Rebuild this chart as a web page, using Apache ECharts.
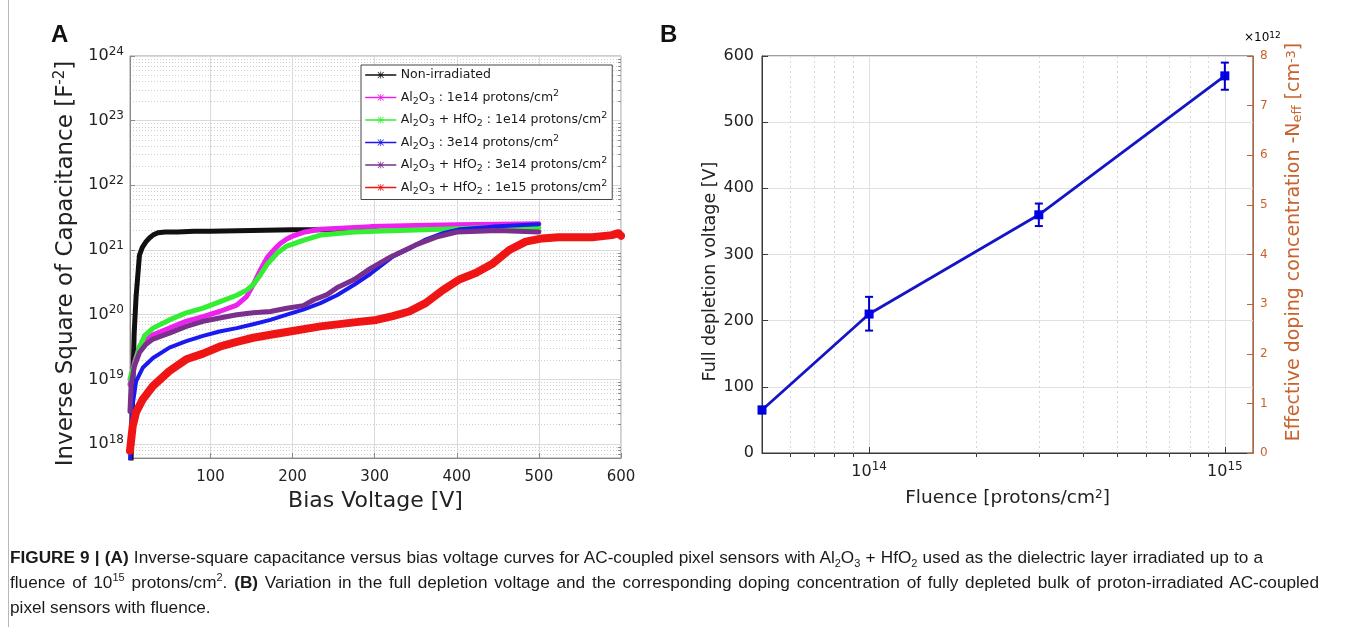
<!DOCTYPE html>
<html>
<head>
<meta charset="utf-8">
<script src="https://cdn.jsdelivr.net/npm/echarts@6/dist/echarts.min.js"></script>
<style>
html,body{margin:0;padding:0;background:#fff;}
#chart{position:absolute;left:0;top:0;width:1356px;height:627px;}
.cap{position:absolute;left:10px;font-family:"Liberation Sans",Arial,sans-serif;font-size:17.2px;line-height:20px;color:#1a1a1a;white-space:nowrap;}
.cap sub,.cap sup{font-size:11px;line-height:0;}
.frame{position:absolute;top:0;height:627px;width:0;border-left:1px solid #b8b8b8;}
</style>
</head>
<body>
<div id="chart"></div>
<div class="frame" style="left:8px"></div>
<div class="cap" style="top:547px;word-spacing:0.4px"><b>FIGURE 9 | (A)</b> Inverse-square capacitance versus bias voltage curves for AC-coupled pixel sensors with Al<sub>2</sub>O<sub>3</sub> + HfO<sub>2</sub> used as the dielectric layer irradiated up to a</div>
<div class="cap" style="top:572px;word-spacing:2px">fluence of 10<sup>15</sup> protons/cm<sup>2</sup>. <b>(B)</b> Variation in the full depletion voltage and the corresponding doping concentration of fully depleted bulk of proton-irradiated AC-coupled</div>
<div class="cap" style="top:597px">pixel sensors with fluence.</div>
<script>
// ---------------- Panel A data (bias voltage [V], inverse square capacitance [F^-2]) ----------------
const seriesNamesA = ['Non-irradiated', 'Al2O3 : 1e14', 'Al2O3 + HfO2 : 1e14', 'Al2O3 : 3e14', 'Al2O3 + HfO2 : 3e14', 'Al2O3 + HfO2 : 1e15'];

const voltBlack = [3, 7, 9.4, 11.4, 13.5, 17, 21.6, 26, 30, 36, 45, 60, 80, 100, 150, 200, 250, 300];
const capBlack  = [4e17, 4.9e19, 1.9e20, 3.9e20, 8.3e20, 1.1e21, 1.35e21, 1.55e21, 1.7e21, 1.85e21, 1.9e21, 1.9e21, 1.95e21, 1.95e21, 2.0e21, 2.05e21, 2.05e21, 2.05e21];

const voltMagenta = [2, 4, 7.3, 13.5, 21.6, 30, 50, 70, 91, 111, 132, 144, 152, 160, 169, 177, 185, 193, 201, 215, 234, 295, 350, 400, 450, 500];
const capMagenta  = [8.3e18, 1.12e19, 1.82e19, 3.2e19, 4.2e19, 4.9e19, 6.2e19, 7.9e19, 9.3e19, 1.12e20, 1.41e20, 1.9e20, 2.9e20, 4.7e20, 7.6e20, 1.0e21, 1.26e21, 1.48e21, 1.66e21, 1.9e21, 2.1e21, 2.3e21, 2.4e21, 2.45e21, 2.5e21, 2.55e21];

const voltGreen = [2, 4, 7, 13.5, 19.6, 30, 50, 70.6, 91, 111, 132, 144, 152, 160, 169, 181, 193, 213, 234, 275, 300, 350, 400, 450, 500];
const capGreen  = [1.0e19, 1.26e19, 1.58e19, 3.1e19, 4.7e19, 6.2e19, 8.3e19, 1.07e20, 1.26e20, 1.58e20, 2.0e20, 2.4e20, 2.9e20, 4.0e20, 6.0e20, 8.9e20, 1.15e21, 1.41e21, 1.7e21, 1.9e21, 1.95e21, 2.04e21, 2.14e21, 2.24e21, 2.2e21];

const voltBlue = [2, 4.5, 9.4, 17.5, 30, 50, 70.6, 91, 111, 132, 152, 173, 193, 213, 234, 254, 275, 295, 322, 342, 362, 383, 404, 444, 500];
const capBlue  = [5e17, 3.5e18, 9.3e18, 1.51e19, 2.14e19, 3.1e19, 3.9e19, 4.7e19, 5.5e19, 6.2e19, 7.1e19, 8.3e19, 1.0e20, 1.2e20, 1.51e20, 2.0e20, 2.9e20, 4.3e20, 7.9e20, 1.05e21, 1.45e21, 1.82e21, 2.1e21, 2.3e21, 2.5e21];

const voltPurple = [2, 3.3, 7.3, 13.5, 21.6, 30, 50, 70.6, 91, 111, 132, 152, 173, 193, 213, 226, 242, 254, 275, 295, 320, 350, 375, 400, 450, 500];
const capPurple  = [3.2e18, 7.9e18, 1.58e19, 2.6e19, 3.5e19, 4.2e19, 5.2e19, 6.6e19, 7.9e19, 8.9e19, 1.0e20, 1.07e20, 1.12e20, 1.26e20, 1.38e20, 1.7e20, 2.04e20, 2.6e20, 3.5e20, 5.2e20, 7.9e20, 1.2e21, 1.58e21, 1.9e21, 2.0e21, 1.9e21];

const voltRed = [2, 5.3, 9.4, 17.5, 30, 50, 70.6, 91, 111, 132, 152, 173, 193, 234, 275, 302, 322, 342, 362, 383, 403, 423, 444, 464, 484, 504, 524, 565, 589, 597, 600];
const capRed  = [7.9e17, 1.9e18, 3.1e18, 4.9e18, 7.9e18, 1.35e19, 2.04e19, 2.5e19, 3.2e19, 3.8e19, 4.4e19, 4.9e19, 5.4e19, 6.6e19, 7.6e19, 8.3e19, 9.5e19, 1.12e20, 1.51e20, 2.4e20, 3.5e20, 4.4e20, 6.2e20, 1.0e21, 1.35e21, 1.51e21, 1.58e21, 1.58e21, 1.7e21, 1.82e21, 1.66e21];

const biasTicks = [100, 200, 300, 400, 500, 600];
const capExponentTicks = [18, 19, 20, 21, 22, 23, 24];

// ---------------- Panel B data ----------------
const fluence = [5e13, 1e14, 3e14, 1e15];
const depletionVoltage = [65, 210, 360, 570];
const errLow  = [60, 185, 343, 549];
const errHigh = [70, 236, 377, 590];
const fluenceExponentTicks = [14, 15];

// ---------------- helpers ----------------
const FONT = 'DejaVu Sans';
const L10 = Math.log10;
const pairs = (xs, ys) => xs.map((x, i) => [x, L10(ys[i])]);
const AST = 'path://M9,0L11,0L11,20L9,20Z M0,9L20,9L20,11L0,11Z M2.6,1.2L18.8,17.4L17.4,18.8L1.2,2.6Z M17.4,1.2L18.8,2.6L2.6,18.8L1.2,17.4Z';

const yMinA = 17.784, yMaxA = 24;
const minorA = [];
for (let n = 17; n <= 23; n++) for (let k = 2; k <= 9; k++) { const v = n + L10(k); if (v > yMinA && v < yMaxA) minorA.push(v); }
const xMinB = L10(5e13), xMaxB = L10(1.2e15);
const minorB = [];
for (let n = 13; n <= 14; n++) for (let k = 2; k <= 9; k++) { const v = n + L10(k); if (v > xMinB && v < xMaxB) minorB.push(v); }

const powRich = {
  b: { fontSize: 16, fontFamily: FONT, color: '#222', lineHeight: 21 },
  e: { fontSize: 12, fontFamily: FONT, color: '#222', verticalAlign: 'top', lineHeight: 11 }
};
const legendRich = {
  sub: { fontSize: 9.5, fontFamily: FONT, color: '#1a1a1a', verticalAlign: 'bottom', lineHeight: 9 },
  sup: { fontSize: 9.5, fontFamily: FONT, color: '#1a1a1a', verticalAlign: 'top', lineHeight: 9 }
};
const legendText = {
  'Non-irradiated': 'Non-irradiated',
  'Al2O3 : 1e14': 'Al{sub|2}O{sub|3} : 1e14 protons/cm{sup|2}',
  'Al2O3 + HfO2 : 1e14': 'Al{sub|2}O{sub|3} + HfO{sub|2} : 1e14 protons/cm{sup|2}',
  'Al2O3 : 3e14': 'Al{sub|2}O{sub|3} : 3e14 protons/cm{sup|2}',
  'Al2O3 + HfO2 : 3e14': 'Al{sub|2}O{sub|3} + HfO{sub|2} : 3e14 protons/cm{sup|2}',
  'Al2O3 + HfO2 : 1e15': 'Al{sub|2}O{sub|3} + HfO{sub|2} : 1e15 protons/cm{sup|2}'
};

const colorsA = ['#111111', '#EE22EE', '#33EE33', '#1A1AF0', '#7B2F8C', '#F01515'];
const widthsA = [5, 5, 5, 4, 5, 8];
const dataA = [pairs(voltBlack, capBlack), pairs(voltMagenta, capMagenta), pairs(voltGreen, capGreen),
               pairs(voltBlue, capBlue), pairs(voltPurple, capPurple), pairs(voltRed, capRed)];

const seriesA = seriesNamesA.map((name, i) => ({
  type: 'line', name, xAxisIndex: 0, yAxisIndex: 0, data: dataA[i],
  symbol: AST, symbolSize: 8, showSymbol: false,
  lineStyle: { color: colorsA[i], width: widthsA[i], cap: 'round', join: 'round' },
  itemStyle: { color: colorsA[i] }, z: 3 + i, silent: true
}));

const axisGray = '#8a8a8a';
const gridGray = '#dadada';
const orange = '#C8632E';

const option = {
  animation: false,
  backgroundColor: '#ffffff',
  grid: [
    { left: 130, top: 56, width: 491, height: 402, show: true, borderColor: '#9a9a9a', borderWidth: 1, backgroundColor: '#fff' },
    { left: 762, top: 56, width: 491, height: 397, show: true, borderColor: '#3a3a3a', borderWidth: 1, backgroundColor: '#fff' }
  ],
  xAxis: [
    { type: 'value', gridIndex: 0, min: 2, max: 600,
      name: 'Bias Voltage [V]', nameLocation: 'middle', nameGap: 32,
      nameTextStyle: { fontFamily: FONT, fontSize: 22, color: '#222' },
      axisLine: { lineStyle: { color: axisGray } },
      axisTick: { inside: true, length: 5, customValues: biasTicks, lineStyle: { color: axisGray } },
      axisLabel: { customValues: biasTicks, fontFamily: FONT, fontSize: 15, color: '#222', margin: 12 },
      splitLine: { show: true, lineStyle: { color: gridGray, width: 1 } } },
    { type: 'value', gridIndex: 1, min: xMinB, max: xMaxB,
      name: 'Fluence [protons/cm{sup|2}]', nameLocation: 'middle', nameGap: 36,
      nameTextStyle: { fontFamily: FONT, fontSize: 18.5, color: '#222', rich: { sup: { fontSize: 12, fontFamily: FONT, color: '#222', verticalAlign: 'top', lineHeight: 11 } } },
      axisLine: { lineStyle: { color: '#3a3a3a' } },
      axisTick: { inside: true, length: 6, customValues: fluenceExponentTicks, lineStyle: { color: '#3a3a3a' } },
      axisLabel: { customValues: fluenceExponentTicks, formatter: v => '{b|10}{e|' + Math.round(v) + '}', rich: powRich, margin: 8 },
      splitLine: { show: true, lineStyle: { color: '#e0e0e0', width: 1 } } },
    { type: 'value', gridIndex: 1, min: xMinB, max: xMaxB,
      axisLine: { show: false }, axisLabel: { show: false },
      axisTick: { show: true, inside: true, length: 4, customValues: minorB, lineStyle: { color: '#3a3a3a' } },
      splitLine: { show: true, lineStyle: { color: '#d6d6d6', type: [2, 3], width: 1 } } }
  ],
  yAxis: [
    { type: 'value', gridIndex: 0, min: yMinA, max: yMaxA,
      name: '{t|Inverse Square of Capacitance [F}{s|-2}{t|]}', nameLocation: 'middle', nameGap: 50,
      nameTextStyle: { fontFamily: FONT, fontSize: 23, color: '#222', padding: [0, 13, 0, 0],
        rich: { t: { fontFamily: FONT, fontSize: 23, color: '#222', lineHeight: 27 }, s: { fontFamily: FONT, fontSize: 15, color: '#222', verticalAlign: 'top', lineHeight: 13 } } },
      axisLine: { lineStyle: { color: axisGray } },
      axisTick: { inside: true, length: 5, customValues: capExponentTicks, lineStyle: { color: axisGray } },
      axisLabel: { customValues: capExponentTicks, formatter: v => '{b|10}{e|' + Math.round(v) + '}', rich: powRich, margin: 6 },
      splitLine: { show: true, lineStyle: { color: gridGray, width: 1 } } },
    { type: 'value', gridIndex: 0, min: yMinA, max: yMaxA,
      axisLine: { show: false }, axisLabel: { show: false },
      axisTick: { show: true, inside: true, length: 3, customValues: minorA, lineStyle: { color: axisGray } },
      splitLine: { show: true, lineStyle: { color: '#cfcfcf', type: [1, 2], width: 1 } } },
    { type: 'value', gridIndex: 1, min: 0, max: 600, interval: 100,
      name: 'Full depletion voltage [V]', nameLocation: 'middle', nameGap: 38,
      nameTextStyle: { fontFamily: FONT, fontSize: 17.5, color: '#222', padding: [0, 34, 0, 0] },
      axisLine: { lineStyle: { color: '#3a3a3a' } },
      axisTick: { inside: true, length: 6, lineStyle: { color: '#3a3a3a' } },
      axisLabel: { fontFamily: FONT, fontSize: 16, color: '#222', margin: 8 },
      splitLine: { show: true, lineStyle: { color: '#e0e0e0', width: 1 } } },
    { type: 'value', gridIndex: 1, min: 0, max: 8, interval: 1, position: 'right',
      name: 'Effective doping concentration -N{sub|eff} [cm{sup|-3}]', nameLocation: 'middle', nameGap: 32, nameRotate: 90,
      nameTextStyle: { fontFamily: FONT, fontSize: 19, color: orange, padding: [0, 0, 0, 25],
        rich: { sub: { fontSize: 13, fontFamily: FONT, color: orange, verticalAlign: 'bottom', lineHeight: 12 },
                sup: { fontSize: 13, fontFamily: FONT, color: orange, verticalAlign: 'top', lineHeight: 12 } } },
      axisLine: { lineStyle: { color: orange } },
      axisTick: { inside: true, length: 6, lineStyle: { color: orange } },
      axisLabel: { fontFamily: FONT, fontSize: 12, color: orange, margin: 7 },
      splitLine: { show: false } }
  ],
  legend: {
    left: 361, top: 65, orient: 'vertical',
    itemWidth: 30, itemHeight: 9, itemGap: 4.5,
    padding: [1, 5, 3, 4],
    backgroundColor: '#fff', borderColor: '#444', borderWidth: 1,
    lineStyle: { width: 1.5 },
    textStyle: { fontFamily: FONT, fontSize: 12.5, color: '#1a1a1a', lineHeight: 18, rich: legendRich },
    formatter: name => legendText[name],
    data: seriesNamesA
  },
  graphic: [
    { type: 'text', left: 51, top: 23, style: { text: 'A', font: 'bold 24px "Liberation Sans", Arial, sans-serif', fill: '#111' } },
    { type: 'text', left: 660, top: 23, style: { text: 'B', font: 'bold 24px "Liberation Sans", Arial, sans-serif', fill: '#111' } },
    { type: 'text', left: 1244, top: 31, style: { text: '{a|×10}{e|12}', rich: { a: { fontSize: 12, fontFamily: FONT, color: orange, lineHeight: 14 }, e: { fontSize: 9, fontFamily: FONT, color: orange, verticalAlign: 'top', lineHeight: 9 } } } }
  ],
  series: seriesA.concat([
    { type: 'line', name: 'Full depletion voltage', xAxisIndex: 1, yAxisIndex: 2,
      data: fluence.map((f, i) => [L10(f), depletionVoltage[i]]),
      symbol: 'rect', symbolSize: 9, showSymbol: true,
      lineStyle: { color: '#1515C8', width: 2.8 }, itemStyle: { color: '#0000F0' }, z: 5 },
    { type: 'custom', name: 'error', xAxisIndex: 1, yAxisIndex: 2,
      data: fluence.map((f, i) => [L10(f), errLow[i], errHigh[i]]),
      encode: { x: 0, y: [1, 2] }, z: 6,
      renderItem: (params, api) => {
        const x = api.value(0);
        const lo = api.coord([x, api.value(1)]);
        const hi = api.coord([x, api.value(2)]);
        const w = 4;
        const st = { stroke: '#0000C8', lineWidth: 2 };
        return { type: 'group', children: [
          { type: 'line', shape: { x1: lo[0], y1: lo[1], x2: hi[0], y2: hi[1] }, style: st },
          { type: 'line', shape: { x1: lo[0] - w, y1: lo[1], x2: lo[0] + w, y2: lo[1] }, style: st },
          { type: 'line', shape: { x1: hi[0] - w, y1: hi[1], x2: hi[0] + w, y2: hi[1] }, style: st }
        ] };
      } }
  ])
};

const chart = echarts.init(document.getElementById('chart'), null, { renderer: 'canvas' });
chart.setOption(option);
</script>
</body>
</html>
